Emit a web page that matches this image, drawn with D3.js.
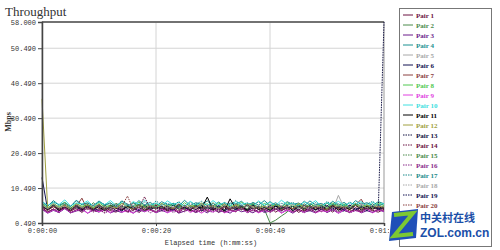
<!DOCTYPE html>
<html lang="en">
<head>
<meta charset="utf-8">
<script src="https://d3js.org/d3.v7.min.js"></script>
<style>
  body { margin: 0; background: #fff; }
</style>
</head>
<body>
<script>
// sample times (seconds)
const seconds = [0,1,2,3,4,5,6,7,8,9,10,11,12,13,14,15,16,17,18,19,20,21,22,23,24,25,26,27,28,29,
  30,31,32,33,34,35,36,37,38,39,40,41,42,43,44,45,46,47,48,49,50,51,52,53,54,55,56,57,58,59,60];

// throughput per pair (Mbps)
const pair1 = [4.9,3.6,4.5,3.4,5.2,3.9,4.8,3.5,5.0,4.1, 3.7,5.3,4.0,3.6,4.9,3.8,5.4,3.5,4.6,4.2,
  3.5,5.0,3.9,4.7,3.4,5.1,4.0,3.6,5.5,3.8, 4.6,3.5,5.0,4.1,3.7,5.2,3.9,4.8,3.5,4.4,
  5.1,3.6,4.7,3.9,5.3,3.5,4.5,4.0,5.0,3.7, 4.8,3.6,5.2,4.1,3.5,4.9,3.8,5.3,4.0,3.6, 4.4];
const pair2 = [5.9,4.6,6.2,4.8,5.5,4.3,6.0,5.0,4.5,6.3, 4.9,5.7,4.4,6.1,5.2,4.7,6.4,4.8,5.6,4.5,
  6.0,5.1,4.6,6.2,4.9,5.5,4.3,5.9,5.0,4.7, 6.3,4.8,5.6,4.4,6.0,5.2,4.6,6.1,4.9,4.5,
  0.5,1.3,2.5,3.6,5.4,4.6,6.0,4.9,5.7,4.4, 6.2,5.0,4.7,5.9,4.5,6.1,5.2,4.8,6.0,4.6, 5.3];
const pair3 = [4.4,3.3,4.1,3.5,4.6,3.4,3.9,4.5,3.3,4.2, 3.6,4.7,3.4,4.0,3.5,4.4,3.3,4.3,3.7,4.6,
  3.4,4.1,3.5,4.5,3.3,3.9,4.4,3.5,4.2,3.4, 4.6,3.6,4.0,3.3,4.5,3.7,4.1,3.4,4.4,3.5,
  3.9,4.6,3.4,4.2,3.3,4.4,3.6,4.0,3.4,4.5, 3.5,4.3,3.3,4.1,3.6,4.6,3.4,4.0,3.5,4.3, 3.7];
const pair4 = [6.6,5.3,6.9,5.6,6.4,5.2,7.0,5.8,6.2,5.4, 6.8,5.5,6.3,5.1,6.7,5.9,5.3,6.9,5.6,6.4,
  5.2,6.6,5.7,6.1,5.3,7.0,5.5,6.3,5.8,6.8, 5.4,6.5,5.2,6.2,5.9,6.7,5.3,6.4,5.6,6.9,
  5.5,6.3,5.1,6.6,5.8,6.2,5.4,6.8,5.7,6.1, 5.3,6.7,5.6,6.4,5.2,6.9,5.8,6.3,5.5,6.6, 6.0];
const pair5 = [5.7,4.5,5.4,4.3,6.0,4.8,5.5,4.4,5.9,4.7, 5.3,4.2,5.8,4.9,5.6,4.4,6.1,4.6,5.2,4.3,
  5.9,4.8,5.5,4.5,6.0,4.7,5.3,4.2,5.7,4.9, 5.4,4.4,6.0,4.6,5.6,4.3,5.8,4.8,5.2,4.5,
  5.9,4.7,5.5,4.3,6.1,4.9,5.4,4.4,5.7,4.6, 5.3,4.2,8.4,4.8,5.6,4.5,6.0,4.7,5.2,4.4, 5.1];
const pair6 = [13.5,4.2,5.3,4.0,5.6,4.4,5.1,3.9,5.4,4.6, 4.1,5.5,4.3,5.0,3.8,5.7,4.5,4.0,5.2,4.3,
  5.6,4.1,4.9,3.9,5.4,4.6,4.2,5.8,4.0,5.1, 4.4,5.5,3.9,5.0,4.3,5.6,4.1,4.8,5.3,3.8,
  4.5,5.4,4.0,5.1,4.4,5.7,3.9,4.9,4.2,5.5, 4.1,5.2,4.5,3.9,5.6,4.3,5.0,4.0,5.4,4.6, 4.7];
const pair7 = [5.4,4.2,5.1,4.5,5.7,4.0,5.2,7.6,4.3,5.5, 4.6,5.0,4.1,5.6,4.4,5.3,4.0,5.8,4.7,4.2,
  5.5,4.3,5.0,4.6,5.9,4.1,5.3,4.5,5.1,4.0, 5.6,4.4,5.2,4.2,5.7,4.6,4.1,5.4,4.3,5.0,
  4.5,5.8,4.2,5.1,4.6,5.3,4.0,5.5,4.4,5.2, 4.1,5.7,4.5,5.0,4.3,5.6,7.3,4.4,5.3,4.2, 4.8];
const pair8 = [6.1,4.9,5.8,5.2,6.4,4.8,6.0,5.3,5.7,4.9, 6.3,5.1,5.6,4.8,6.2,5.4,5.0,6.5,5.2,5.9,
  4.9,6.1,5.3,5.7,4.8,6.3,5.1,5.8,5.4,6.0, 4.9,6.2,5.2,5.6,5.0,6.4,5.3,5.9,4.8,6.1,
  5.4,5.7,5.0,6.3,5.2,5.8,4.9,6.0,5.3,5.6, 5.0,6.2,5.4,5.9,4.9,6.1,5.2,5.7,5.0,6.3, 5.5];
const pair9 = [4.6,3.4,4.3,3.6,4.8,3.5,4.1,4.5,3.3,4.4, 3.7,4.2,3.4,4.7,3.6,4.0,3.3,4.5,3.8,4.3,
  3.5,4.6,3.4,4.1,3.7,4.8,3.5,4.2,3.3,4.4, 3.6,4.5,3.4,4.0,3.8,4.7,3.5,4.3,3.4,4.1,
  3.7,4.6,3.3,4.2,3.6,4.4,3.5,4.8,3.4,4.0, 3.7,4.5,3.3,4.3,3.6,4.1,3.5,4.6,3.4,4.2, 3.9];
const pair10 = [6.7,5.5,6.4,5.8,7.1,5.4,6.2,5.9,6.8,5.3, 6.5,5.7,6.9,5.5,6.3,5.2,6.6,5.9,7.0,5.6,
  6.2,5.4,6.8,5.8,6.4,5.3,6.7,5.6,6.1,5.5, 6.9,5.7,6.3,5.4,6.6,5.9,6.2,5.3,6.8,5.6,
  6.4,5.5,7.0,5.8,6.1,5.4,6.5,5.7,6.9,5.3, 6.3,5.6,6.7,5.5,6.2,5.9,6.6,5.4,6.4,5.7, 6.1];
const pair11 = [5.3,4.3,5.6,4.1,5.0,4.6,5.4,4.2,5.7,4.4, 5.1,4.0,5.5,4.7,4.2,5.2,4.5,5.8,4.1,5.0,
  4.6,5.3,4.2,5.6,4.4,5.0,4.1,5.4,4.7,7.9, 4.3,5.2,4.0,7.4,4.6,5.1,4.2,5.7,4.4,5.0,
  4.1,5.3,4.5,5.6,4.0,5.2,4.7,5.4,4.3,5.0, 4.6,5.5,4.1,5.1,4.4,5.8,4.2,5.3,4.5,5.0, 4.8];
const pair12 = [36.0,4.6,5.8,4.9,5.5,4.4,6.0,5.0,5.6,4.7, 5.9,4.5,5.3,4.8,6.1,5.0,4.6,5.7,4.9,5.4,
  4.5,6.0,5.1,4.7,5.8,4.4,5.5,5.0,6.2,4.8, 5.3,4.6,5.9,4.9,5.6,4.5,6.0,5.1,4.7,5.4,
  4.4,5.8,5.0,5.5,4.6,6.1,4.9,5.3,4.7,5.7, 4.5,5.9,5.0,5.4,4.8,6.0,4.6,5.6,4.9,5.3, 5.1];
const pair13 = [5.2,4.1,5.5,4.4,5.0,4.0,5.6,4.5,5.1,4.2, 5.4,4.3,4.9,5.7,4.1,5.3,4.6,5.0,4.0,5.5,
  4.4,5.2,4.1,5.6,4.7,5.0,4.2,5.4,4.5,5.1, 4.0,5.5,4.3,5.2,4.6,4.9,4.1,5.6,4.4,5.0,
  4.2,5.3,4.7,5.5,4.0,5.1,4.5,5.4,4.3,4.9, 5.6,4.1,5.2,4.6,5.0,4.2,5.5,4.4,5.1,4.5, 58.0];
const pair14 = [4.7,3.7,4.5,3.9,5.0,3.6,4.4,4.1,4.8,3.8, 4.3,3.5,4.9,4.0,4.6,3.7,4.2,5.0,8.0,4.5,
  3.6,4.7,4.0,4.4,3.5,4.9,3.9,4.3,3.7,4.6, 4.1,4.8,3.6,4.4,3.9,5.0,3.7,4.2,3.8,4.7,
  3.6,4.5,4.0,4.9,3.7,4.3,3.9,4.6,3.5,4.4, 4.0,4.8,3.7,4.5,3.9,4.2,3.6,4.7,4.0,4.3, 4.2];
const pair15 = [5.8,4.6,5.5,4.8,6.0,4.5,5.3,4.9,5.9,4.7, 5.6,4.4,5.2,6.1,4.8,5.5,4.6,5.7,5.0,4.5,
  6.0,4.9,5.4,4.7,5.8,4.4,5.3,5.0,5.9,4.6, 5.5,4.8,6.1,4.5,5.2,4.9,5.7,4.6,5.4,5.0,
  4.7,5.9,4.5,5.6,4.8,5.3,4.4,6.0,4.9,5.5, 4.6,5.8,5.0,5.2,4.7,5.7,4.5,5.4,4.8,5.9, 5.1];
const pair16 = [4.5,3.5,4.3,3.7,4.7,3.4,4.1,3.8,4.6,3.6, 4.4,3.3,4.2,3.9,4.8,3.5,4.0,3.6,4.5,3.4,
  4.3,3.8,4.7,3.5,4.1,3.7,4.6,3.4,4.4,3.9, 3.6,4.5,3.5,4.2,3.8,4.8,3.4,4.0,3.7,4.6,
  3.5,4.3,3.9,4.7,3.6,4.1,3.4,4.4,3.8,4.5, 3.5,4.2,3.7,4.6,3.4,4.0,3.9,4.5,3.6,4.3, 4.0];
const pair17 = [6.4,5.3,6.7,5.5,6.1,5.2,6.8,5.7,6.3,5.4, 6.6,5.8,6.0,5.3,6.9,5.5,6.2,5.6,6.5,5.2,
  6.8,5.7,6.1,5.4,6.6,5.3,6.3,5.9,6.7,5.5, 6.0,5.2,6.4,5.6,6.9,5.4,6.2,5.8,6.5,5.3,
  6.7,5.5,6.1,5.7,6.4,5.2,6.8,5.6,6.3,5.4, 6.6,5.8,6.0,5.3,6.5,5.5,6.2,5.9,6.7,5.4, 6.0];
const pair18 = [5.6,4.6,5.9,4.8,5.3,4.4,5.7,5.0,4.5,5.8, 4.9,5.4,4.3,5.6,4.7,6.0,4.8,5.2,4.5,5.5,
  4.6,5.8,4.9,5.3,4.4,5.7,5.0,4.6,5.9,4.7, 5.4,4.5,5.6,4.8,5.2,4.3,5.8,4.9,5.5,4.6,
  5.7,4.4,5.3,5.0,5.9,4.7,5.1,4.5,5.6,4.8, 5.4,4.6,5.8,4.9,5.2,4.4,5.7,4.7,5.5,5.0, 5.1];
const pair19 = [5.3,4.2,5.6,4.4,5.0,4.1,5.5,4.6,5.2,4.3, 5.7,4.5,4.9,4.0,5.4,4.7,5.1,4.2,5.6,4.4,
  5.0,4.6,5.3,4.1,5.8,4.5,4.9,4.3,5.5,4.7, 5.1,4.0,5.4,4.6,5.2,4.3,5.7,4.5,4.9,4.2,
  5.5,4.4,5.0,4.7,5.3,4.1,5.6,4.5,5.2,4.3, 5.4,4.6,4.9,4.2,5.7,4.4,5.1,4.6,5.3,4.3, 4.8];
const pair20 = [5.2,4.1,5.4,4.4,4.9,4.0,5.5,4.6,5.1,4.3, 5.6,4.2,4.8,4.5,5.3,8.2,4.4,5.0,4.1,5.5,
  4.6,5.2,4.3,4.9,4.0,5.4,4.5,5.1,4.2,5.6, 4.7,4.0,5.3,4.4,5.0,4.2,5.5,4.6,4.9,4.1,
  5.2,4.5,5.4,4.3,4.8,4.0,5.6,4.4,5.1,4.7, 4.2,5.3,4.6,5.0,4.1,5.4,4.5,4.8,4.3,5.2, 4.6];

const pairNames = ["Pair 1","Pair 2","Pair 3","Pair 4","Pair 5","Pair 6","Pair 7","Pair 8","Pair 9","Pair 10",
  "Pair 11","Pair 12","Pair 13","Pair 14","Pair 15","Pair 16","Pair 17","Pair 18","Pair 19","Pair 20"];
const pairValues = [pair1,pair2,pair3,pair4,pair5,pair6,pair7,pair8,pair9,pair10,
  pair11,pair12,pair13,pair14,pair15,pair16,pair17,pair18,pair19,pair20];

// axis ticks
const yTicks = [0.49, 10.49, 20.49, 30.49, 40.49, 50.49, 58];
const xTicks = [0, 20, 40, 60];
const xTickLabels = ["0:00:00", "0:00:20", "0:00:40", "0:01:00"];

// line colours (pairs 13-20 are dotted)
const colours = ["#6a1040","#4a8a4a","#6a1a8a","#1a9090","#a8a8a8","#101050","#8a4040","#50c850","#e040e0","#40e0e0",
  "#000000","#a0a040","#101040","#6a1040","#4a8a4a","#8a2a8a","#1a8a8a","#a8a8a8","#101050","#8a4040"];

const margin = {top: 22, right: 116, bottom: 27, left: 42};
const W = 500, H = 250;
const width = W - margin.left - margin.right;
const height = H - margin.top - margin.bottom;

var svg = d3.select("body").append("svg")
  .attr("width", W).attr("height", H)
  .style("font-family", "'Liberation Mono', monospace");

svg.append("rect").attr("width", W).attr("height", H).attr("fill", "#fff");

// title
svg.append("text")
  .attr("x", 5).attr("y", 16)
  .style("font-family", "'Liberation Serif', serif")
  .style("font-size", "13px")
  .attr("fill", "#333")
  .text("Throughput");

var g = svg.append("g")
  .attr("transform", "translate(" + margin.left + "," + margin.top + ")");

var x = d3.scaleLinear().domain([0, 60]).range([0, width]);
var y = d3.scaleLinear().domain([0.49, 58]).range([height, 0]);

// grid
g.append("g")
  .selectAll("line").data(yTicks.slice(1, -1)).enter().append("line")
  .attr("x1", 0).attr("x2", width)
  .attr("y1", function(d) { return y(d); }).attr("y2", function(d) { return y(d); })
  .attr("stroke", "#d4d4d4");
g.append("g")
  .selectAll("line").data(xTicks.slice(1, -1)).enter().append("line")
  .attr("y1", 0).attr("y2", height)
  .attr("x1", function(d) { return x(d); }).attr("x2", function(d) { return x(d); })
  .attr("stroke", "#d4d4d4");

// frame
g.append("rect")
  .attr("width", width).attr("height", height)
  .attr("fill", "none").attr("stroke", "#999");
g.append("line").attr("x1", 0).attr("x2", width).attr("y1", 0).attr("y2", 0)
  .attr("stroke", "#555").attr("stroke-width", 1.5);

// clip for series
svg.append("clipPath").attr("id", "plotclip")
  .append("rect").attr("x", -1).attr("y", -1).attr("width", width + 2).attr("height", height + 1);

var line = d3.line()
  .x(function(d, i) { return x(seconds[i]); })
  .y(function(d) { return y(d); });

g.append("g").attr("clip-path", "url(#plotclip)")
  .selectAll("path").data(pairValues).enter().append("path")
  .attr("d", line)
  .attr("fill", "none")
  .attr("stroke", function(d, i) { return colours[i]; })
  .attr("stroke-width", 1)
  .attr("stroke-dasharray", function(d, i) { return i >= 12 ? "1.5,1" : null; });

// axes
var yAxis = g.append("g")
  .call(d3.axisLeft(y).tickValues(yTicks).tickFormat(d3.format(".3f")).tickSize(4).tickPadding(2));
var xAxis = g.append("g")
  .attr("transform", "translate(0," + height + ")")
  .call(d3.axisBottom(x).tickValues(xTicks).tickFormat(function(d, i) { return xTickLabels[i]; }).tickSize(3).tickPadding(2));

[yAxis, xAxis].forEach(function(a) {
  a.select(".domain").attr("stroke", "#444").attr("stroke-width", 1.5);
  a.selectAll(".tick line").attr("stroke", "#444");
  a.selectAll("text")
    .style("font-family", "'Liberation Mono', monospace")
    .style("font-size", "7px")
    .attr("fill", "#333");
});

// last x label is cut off by the legend area
svg.append("clipPath").attr("id", "xlabclip")
  .append("rect").attr("x", -margin.left).attr("y", 0).attr("width", width + margin.left + 5).attr("height", 20);
xAxis.attr("clip-path", "url(#xlabclip)");

// axis titles
svg.append("text")
  .attr("transform", "translate(11,122) rotate(-90)")
  .attr("text-anchor", "middle")
  .style("font-family", "'Liberation Serif', serif")
  .style("font-size", "8px").style("font-weight", "bold")
  .attr("fill", "#333")
  .text("Mbps");
svg.append("text")
  .attr("x", 211).attr("y", 245)
  .attr("text-anchor", "middle")
  .style("font-size", "7px")
  .attr("fill", "#333")
  .text("Elapsed time (h:mm:ss)");

// legend
var legend = svg.append("g");
legend.append("rect")
  .attr("x", 399.5).attr("y", 8.5).attr("width", 92).attr("height", 238)
  .attr("fill", "#fff").attr("stroke", "#777");
var item = legend.selectAll(".item").data(pairNames).enter().append("g")
  .attr("class", "item")
  .attr("transform", function(d, i) { return "translate(0," + (15 + i * 10) + ")"; });
item.append("line")
  .attr("x1", 403).attr("x2", 413)
  .attr("stroke", function(d, i) { return colours[i]; })
  .attr("stroke-width", 1)
  .attr("stroke-dasharray", function(d, i) { return i >= 12 ? "1.5,1" : null; });
item.append("text")
  .attr("x", 416).attr("y", 2.5)
  .style("font-family", "'Liberation Serif', serif")
  .style("font-size", "7px").style("font-weight", "bold")
  .attr("fill", function(d, i) { return colours[i]; })
  .text(function(d) { return d; });

// site watermark
var wm = svg.append("g");
wm.append("polygon")
  .attr("points", "392,212 418,209 416,238 389,241")
  .attr("fill", "#1f4fb8");
wm.append("polyline")
  .attr("points", "394,215 413,213 394,236 413,234")
  .attr("fill", "none").attr("stroke", "#7cc832").attr("stroke-width", 4);
wm.append("text")
  .attr("x", 420).attr("y", 222)
  .style("font-family", "'Noto Sans CJK SC', sans-serif")
  .style("font-size", "11px").style("font-weight", "bold")
  .attr("fill", "#1b4fa8")
  .text("中关村在线");
wm.append("text")
  .attr("x", 420).attr("y", 237)
  .style("font-family", "'Liberation Sans', sans-serif")
  .style("font-size", "12px").style("font-weight", "bold")
  .attr("fill", "#1b4fa8")
  .text("ZOL.com.cn");
</script>
</body>
</html>
